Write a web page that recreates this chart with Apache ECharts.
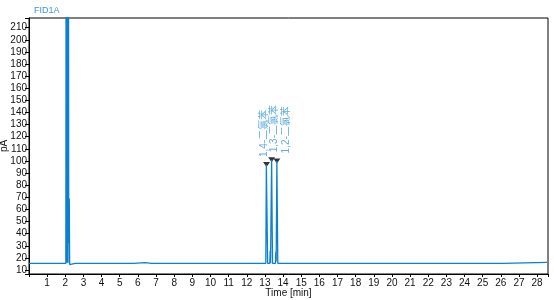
<!DOCTYPE html>
<html>
<head>
<meta charset="utf-8">
<script src="https://cdn.jsdelivr.net/npm/echarts@6/dist/echarts.min.js"></script>
<style>html,body{margin:0;padding:0;background:#fff}#c{width:554px;height:300px}</style>
</head>
<body>
<div id="c"></div>
<script>
// Chromatogram trace (time in min, signal in pA)
const timeMin = [0.0, 2.03, 2.05, 2.07, 2.09, 2.11, 2.13, 2.15, 2.17, 2.19, 2.22, 2.24, 2.27, 2.54, 2.56, 2.58, 3.56, 3.59, 3.62,
  5.38, 5.40, 5.42, 5.75, 5.78, 6.40, 6.43, 6.76, 6.78, 6.80, 8.44, 8.46, 8.48, 12.56, 12.58, 12.60,
  13.05, 13.08, 13.15, 13.27, 13.29, 13.31, 13.34, 13.37, 13.40, 13.42, 13.58, 13.60, 13.62, 13.66, 13.71,
  14.18, 14.20, 14.22, 15.00, 15.02, 15.04, 26.10, 26.13, 28.55];
const signalPA = [15.5, 15.5, 400, 16, 400, 16, 400, 16, 400, 32, 69, 14.5, 15.5, 15.5, 16.2, 15.5, 15.5, 16.4, 15.5,
  15.5, 16.2, 15.5, 15.5, 16.1, 16.1, 15.5, 15.5, 16.5, 15.5, 15.5, 16.3, 15.5, 15.5, 16.2, 15.5,
  15.5, 97, 15.5, 15.5, 26, 15.5, 15.5, 101, 47, 15.5, 15.5, 25, 17, 100, 15.5,
  15.5, 16.3, 15.5, 15.5, 16.3, 15.5, 15.5, 16.3, 16.3];

// Identified peaks
const peakNames = ['1,4-二氯苯', '1,3-二氯苯', '1,2-二氯苯'];
const peakTimes = [13.09, 13.37, 13.66];
const peakHeights = [97, 101, 100];

// label offsets in the rotated text frame: [along text, across text]
const labelShift = [[0, -2.5], [0, 3], [0, 9]];

const trace = timeMin.map((t, i) => [t, signalPA[i]]);
const peaks = peakNames.map((n, i) => ({
  name: n,
  value: [peakTimes[i], peakHeights[i]],
  label: { offset: labelShift[i] }
}));

const chart = echarts.init(document.getElementById('c'), null, { renderer: 'canvas' });
const tickFont = { fontFamily: 'Liberation Sans, Arial, sans-serif', fontSize: 10, color: '#111' };
chart.setOption({
  animation: false,
  title: {
    text: 'FID1A', left: 34, top: 6, padding: 0,
    textStyle: { fontSize: 9, fontWeight: 'normal', color: '#3a98d8', fontFamily: 'Liberation Sans, Arial, sans-serif' }
  },
  grid: { left: 29, right: 6, top: 18, bottom: 26, show: true, borderColor: '#000', borderWidth: 1,
          containLabel: false, outerBoundsMode: 'none' },
  xAxis: {
    type: 'value', min: 0, max: 28.6, interval: 1,
    name: 'Time [min]', nameLocation: 'middle', nameGap: 14, nameMoveOverlap: false,
    nameTextStyle: tickFont,
    axisLine: { lineStyle: { color: '#000', width: 1 } },
    axisTick: { length: 3, lineStyle: { color: '#000' } },
    axisLabel: Object.assign({ margin: 4, formatter: v => (Number.isInteger(v) && v > 0) ? String(v) : '' }, tickFont),
    splitLine: { show: false }
  },
  yAxis: {
    type: 'value', min: 6.7, max: 218, splitNumber: 21, minInterval: 10, maxInterval: 10,
    name: 'pA', nameLocation: 'middle', nameGap: 20, nameRotate: 90, nameMoveOverlap: false,
    nameTextStyle: tickFont,
    axisLine: { lineStyle: { color: '#000', width: 1 } },
    axisTick: { length: 4, lineStyle: { color: '#000' } },
    axisLabel: Object.assign({ margin: 2, formatter: v => (Math.abs(v % 10) < 1e-6) ? String(v) : '' }, tickFont),
    splitLine: { show: false }
  },
  series: [
    {
      type: 'line', data: trace, showSymbol: false, symbol: 'none',
      lineStyle: { color: '#0b80d2', width: 1.3 }, clip: true, silent: true
    },
    {
      type: 'scatter', data: peaks, symbol: 'triangle', symbolRotate: 180, symbolSize: [7, 5],
      itemStyle: { color: '#000' }, silent: true,
      label: {
        show: true, position: 'top', distance: 5, rotate: 90, align: 'left', verticalAlign: 'middle',
        formatter: p => p.name, fontSize: 10, color: '#3a98d8',
        fontFamily: 'Liberation Sans, Noto Sans CJK SC, sans-serif'
      }
    }
  ]
});
</script>
</body>
</html>
